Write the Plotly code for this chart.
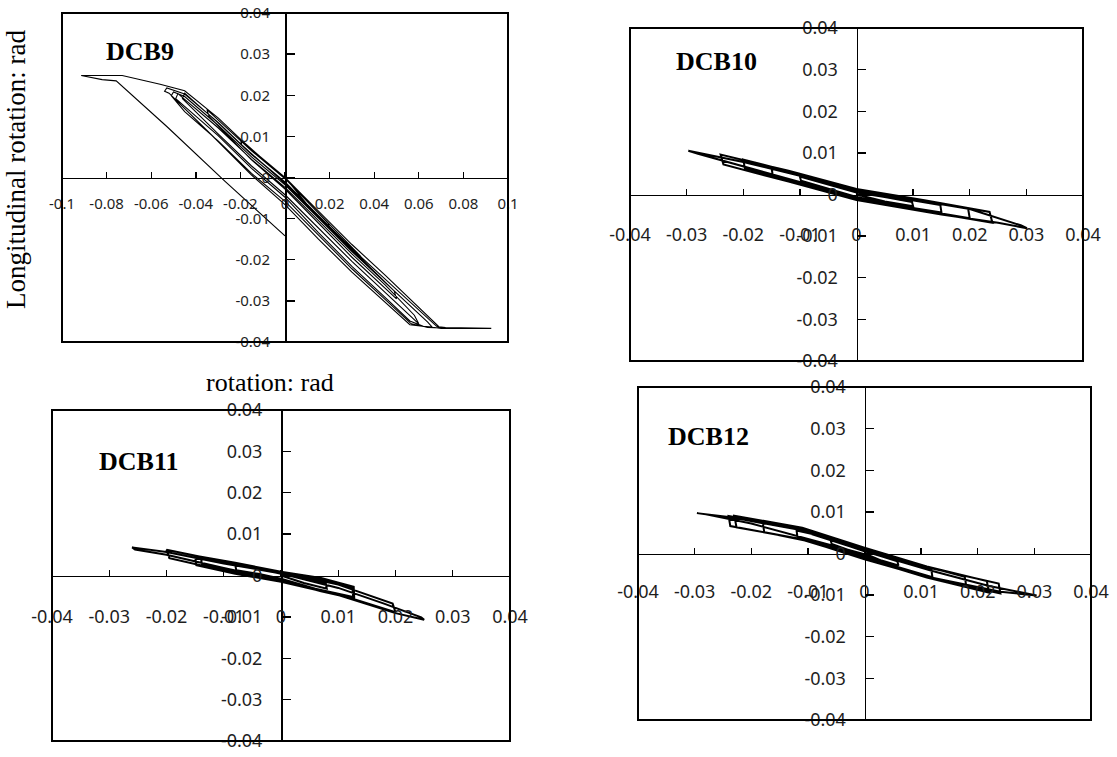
import plotly.graph_objects as go

W, H = 1117, 757

# ---------------- data ----------------
dcb9_x = [0, 0.01, 0.02, 0.0195, 0, -0.02, -0.0195, 0,
          0.015, 0.035, 0.034, 0.015, 0, -0.015, -0.035, -0.034, -0.015, 0,
          0.015, 0.03, 0.05, 0.049, 0.03, 0.015, 0, -0.015, -0.03, -0.045, -0.046, -0.03, -0.015, 0,
          0.015, 0.03, 0.045, 0.055, 0.06, 0.058, 0.045, 0.03, 0.015, 0, -0.015, -0.03, -0.045, -0.048, -0.049, -0.03, -0.015, 0,
          0.015, 0.03, 0.045, 0.056, 0.062, 0.066, 0.064, 0.045, 0.03, 0.015, 0, -0.015, -0.03, -0.045, -0.05, -0.051, -0.045, -0.03, -0.015, 0,
          0.015, 0.03, 0.045, 0.0566, 0.064, 0.07, 0.068, 0.045, 0.03, 0.015, 0, -0.015, -0.03, -0.045, -0.053, -0.054, -0.052, -0.031, -0.015, 0,
          0.015, 0.03, 0.045, 0.056, 0.07, 0.0925, 0.072, 0.069, 0.045, 0.03, 0.015, 0, -0.015, -0.03, -0.045, -0.056, -0.073, -0.0914, -0.082, -0.0757, -0.053, -0.027, 0]
dcb9_y = [0, -0.0066, -0.0124, -0.0112, -0.0002, 0.0093, 0.0080, -0.0015,
          -0.0097, -0.0205, -0.0192, -0.0085, -0.0003, 0.0065, 0.0165, 0.0148, 0.0043, -0.0028,
          -0.0112, -0.0194, -0.0295, -0.0276, -0.0175, -0.0093, -0.0012, 0.0056, 0.0133, 0.0205, 0.0192, 0.0106, 0.0028, -0.0042,
          -0.0122, -0.0204, -0.028, -0.0332, -0.0356, -0.0335, -0.0262, -0.0186, -0.0105, -0.0024, 0.0044, 0.0121, 0.019, 0.0204, 0.0192, 0.0102, 0.0022, -0.0048,
          -0.0134, -0.0216, -0.0292, -0.0349, -0.0362, -0.0364, -0.0352, -0.0256, -0.018, -0.0099, -0.0018, 0.005, 0.0127, 0.0197, 0.0208, 0.0199, 0.016, 0.0089, 0.001, -0.0058,
          -0.0141, -0.0222, -0.0297, -0.0356, -0.0365, -0.0366, -0.0362, -0.0248, -0.0173, -0.0093, -0.0011, 0.0057, 0.0134, 0.0203, 0.0218, 0.021, 0.0205, 0.0093, 0.0006, -0.0066,
          -0.015, -0.023, -0.0305, -0.0358, -0.0367, -0.0367, -0.0365, -0.0363, -0.0238, -0.0163, -0.0082, 0, 0.0068, 0.0145, 0.0211, 0.0227, 0.0248, 0.0248, 0.0238, 0.0235, 0.0124, -0.0009, -0.0142]

dcb10_x = [0, 0.005, 0.01, 0.0098, 0.005, 0, -0.005, -0.01, -0.0098, -0.005, 0,
           0.008, 0.015, 0.0148, 0.008, 0, -0.008, -0.015, -0.0148, -0.008, 0,
           0.01, 0.02, 0.0197, 0.01, 0, -0.01, -0.02, -0.0197, -0.01, 0,
           0.012, 0.024, 0.0235, 0.012, 0, -0.012, -0.024, -0.0235, -0.012, 0,
           0.015, 0.025, 0.0301, 0.029, 0.02, 0.01, 0, -0.01, -0.02, -0.0297, -0.028, -0.02, -0.01, 0]
dcb10_y = [0, -0.0017, -0.0028, -0.0018, -0.0006, 0.0005, 0.0024, 0.0043, 0.0033, 0.0013, -0.0006,
           -0.0028, -0.0043, -0.0025, -0.0009, 0.0009, 0.0038, 0.0063, 0.0047, 0.0021, -0.0009,
           -0.0034, -0.0057, -0.0033, -0.001, 0.0012, 0.0049, 0.0084, 0.0062, 0.0026, -0.0012,
           -0.004, -0.0068, -0.0042, -0.0014, 0.0013, 0.0057, 0.0096, 0.0072, 0.0031, -0.0013,
           -0.0048, -0.0068, -0.0081, -0.0074, -0.0035, -0.0012, 0.0008, 0.0045, 0.0078, 0.0105, 0.0098, 0.0068, 0.003, -0.0008]

dcb11_x = [0, 0.004, 0.008, 0.0078, 0.004, 0, -0.004, -0.008, -0.0078, -0.004, 0,
           0.006, 0.0126, 0.0125, 0.006, 0, -0.007, -0.014, -0.0138, -0.007, 0,
           0.007, 0.0128, 0.0127, 0.007, 0, -0.008, -0.015, -0.0148, -0.008, 0,
           0.01, 0.02, 0.0195, 0.01, 0, -0.01, -0.02, -0.0195, -0.01, 0,
           0.01, 0.02, 0.025, 0.0245, 0.018, 0.01, 0, -0.01, -0.02, -0.026, -0.0255, -0.02, -0.01, 0]
dcb11_y = [0, -0.0018, -0.0032, -0.0018, -0.0008, 0.0004, 0.0016, 0.0025, 0.0013, 0.0004, -0.0008,
           -0.0032, -0.0052, -0.003, -0.0008, 0.0006, 0.0027, 0.0044, 0.0026, 0.0008, -0.0012,
           -0.0038, -0.0056, -0.0027, -0.0006, 0.0009, 0.0031, 0.0048, 0.0025, 0.0004, -0.0015,
           -0.0045, -0.0089, -0.0068, -0.0022, 0.0008, 0.0034, 0.0062, 0.0042, 0.0012, -0.0015,
           -0.0047, -0.0091, -0.0107, -0.0101, -0.0068, -0.003, 0.0005, 0.0029, 0.0057, 0.0068, 0.0063, 0.005, 0.0018, -0.0012]

dcb12_x = [0, 0.003, 0.006, 0.0058, 0.003, 0, -0.003, -0.006, -0.0058, -0.003, 0,
           0.006, 0.012, 0.0118, 0.006, 0, -0.006, -0.012, -0.0118, -0.006, 0,
           0.009, 0.018, 0.0177, 0.009, 0, -0.009, -0.018, -0.0177, -0.009, 0,
           0.011, 0.022, 0.0216, 0.011, 0, -0.011, -0.023, -0.0226, -0.011, 0,
           0.012, 0.024, 0.0237, 0.012, 0, -0.012, -0.024, -0.0237, -0.012, 0,
           0.012, 0.024, 0.0304, 0.029, 0.022, 0.012, 0, -0.012, -0.024, -0.0296, -0.028, -0.02, -0.01, 0]
dcb12_y = [0, -0.0017, -0.0029, -0.0019, -0.0007, 0.0005, 0.0019, 0.0033, 0.0023, 0.0009, -0.0005,
           -0.0033, -0.0057, -0.0039, -0.0015, 0.0009, 0.0037, 0.0055, 0.0037, 0.0019, -0.0009,
           -0.0048, -0.008, -0.0056, -0.0024, 0.0012, 0.0051, 0.0075, 0.0051, 0.0027, -0.0012,
           -0.0058, -0.0094, -0.0066, -0.0031, 0.0014, 0.0062, 0.0091, 0.0063, 0.0034, -0.0014,
           -0.006, -0.0096, -0.0072, -0.0036, 0.0012, 0.0061, 0.009, 0.0066, 0.0037, -0.0012,
           -0.0058, -0.0092, -0.0101, -0.0097, -0.0078, -0.0042, 0.0006, 0.0058, 0.0088, 0.0097, 0.0094, 0.0072, 0.0035, -0.0002]

y_ticks = [0.04, 0.03, 0.02, 0.01, 0, -0.01, -0.02, -0.03, -0.04]
y_labels = ["0.04", "0.03", "0.02", "0.01", "0", "-0.01", "-0.02", "-0.03", "-0.04"]
x_ticks_wide = [-0.1, -0.08, -0.06, -0.04, -0.02, 0, 0.02, 0.04, 0.06, 0.08, 0.1]
x_labels_wide = ["-0.1", "-0.08", "-0.06", "-0.04", "-0.02", "0", "0.02", "0.04", "0.06", "0.08", "0.1"]
x_ticks_narrow = [-0.04, -0.03, -0.02, -0.01, 0, 0.01, 0.02, 0.03, 0.04]
x_labels_narrow = ["-0.04", "-0.03", "-0.02", "-0.01", "0", "0.01", "0.02", "0.03", "0.04"]

panel_names = ["DCB9", "DCB10", "DCB11", "DCB12"]
y_title = "Longitudinal rotation: rad"
x_title = "rotation: rad"

# ---------------- layout geometry (pixels, as seen in the reference) ----------------
panels = [
    dict(name=panel_names[0], x=dcb9_x, y=dcb9_y, xr=0.1, xt=x_ticks_wide, xl=x_labels_wide,
         px=(62, 508), py=(13, 342), fs=15, lab=(140, 52), lw=1.1, xstand=12, ystand=12),
    dict(name=panel_names[1], x=dcb10_x, y=dcb10_y, xr=0.04, xt=x_ticks_narrow, xl=x_labels_narrow,
         px=(630, 1083), py=(28, 361), fs=18, lab=(716, 62), lw=2, xstand=23, ystand=15),
    dict(name=panel_names[2], x=dcb11_x, y=dcb11_y, xr=0.04, xt=x_ticks_narrow, xl=x_labels_narrow,
         px=(52, 510), py=(410, 741), fs=18, lab=(138, 461), lw=2, xstand=24, ystand=15),
    dict(name=panel_names[3], x=dcb12_x, y=dcb12_y, xr=0.04, xt=x_ticks_narrow, xl=x_labels_narrow,
         px=(638, 1091), py=(387, 720), fs=18, lab=(708, 436), lw=2, xstand=21, ystand=15),
]


def fx(px):
    return px / W


def fy(py):
    return 1 - py / H


fig = go.Figure()
layout = dict(width=W, height=H, margin=dict(l=0, r=0, t=0, b=0, autoexpand=False),
              paper_bgcolor="white", plot_bgcolor="white", showlegend=False,
              shapes=[], annotations=[])

for i, p in enumerate(panels, start=1):
    xa = "x" if i == 1 else f"x{i}"
    ya = "y" if i == 1 else f"y{i}"
    xd = [fx(p["px"][0]), fx(p["px"][1])]
    yd = [fy(p["py"][1]), fy(p["py"][0])]
    fig.add_trace(go.Scatter(x=p["x"], y=p["y"], mode="lines", xaxis=xa, yaxis=ya,
                             line=dict(color="black", width=p["lw"]), hoverinfo="skip"))
    tickfont = dict(family="Noto Sans", size=p["fs"], color="#1e1e1e")
    pad = 1e-5 * p["xr"]
    layout["xaxis" if i == 1 else f"xaxis{i}"] = dict(
        domain=xd, range=[-p["xr"] - pad, p["xr"] + pad], automargin=False,
        anchor="free", position=(yd[0] + yd[1]) / 2, side="bottom",
        showline=True, linecolor="black", linewidth=1.6, showgrid=False, zeroline=False,
        ticks="inside", ticklen=6, tickwidth=1.4, tickcolor="black",
        tickvals=p["xt"], ticktext=p["xl"], tickfont=tickfont, ticklabeloverflow="allow",
        ticklabelstandoff=p["xstand"], fixedrange=True)
    layout["yaxis" if i == 1 else f"yaxis{i}"] = dict(
        domain=yd, range=[-0.04001, 0.04001], automargin=False,
        anchor="free", position=(xd[0] + xd[1]) / 2, side="left",
        showline=True, linecolor="black", linewidth=1.6, showgrid=False, zeroline=False,
        ticks="inside", ticklen=8, tickwidth=1.4, tickcolor="black",
        tickvals=y_ticks, ticktext=y_labels, tickfont=tickfont, ticklabeloverflow="allow",
        ticklabelstandoff=p["ystand"], fixedrange=True)
    layout["shapes"].append(dict(type="rect", xref=f"{xa} domain", yref=f"{ya} domain",
                                 x0=0, x1=1, y0=0, y1=1,
                                 line=dict(color="black", width=2), layer="above"))
    layout["annotations"].append(dict(
        text=f"<b>{p['name']}</b>", xref="paper", yref="paper",
        x=fx(p["lab"][0]), y=fy(p["lab"][1]), xanchor="center", yanchor="middle",
        showarrow=False, font=dict(family="Liberation Serif", size=26, color="black")))

layout["annotations"].append(dict(
    text=y_title, xref="paper", yref="paper", x=fx(16), y=fy(170),
    xanchor="center", yanchor="middle", textangle=-90, showarrow=False,
    font=dict(family="Liberation Serif", size=27, color="black")))
layout["annotations"].append(dict(
    text=x_title, xref="paper", yref="paper", x=fx(270), y=fy(382),
    xanchor="center", yanchor="middle", showarrow=False,
    font=dict(family="Liberation Serif", size=26, color="black")))

fig.update_layout(**layout)
fig.write_html("out.html", config={"displayModeBar": False, "staticPlot": True},
               post_script="document.body.style.margin='0';")
